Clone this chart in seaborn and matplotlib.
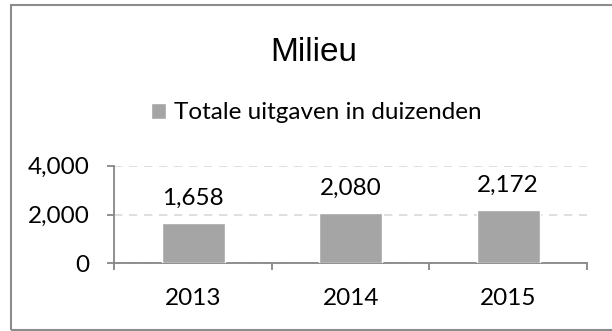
import matplotlib
matplotlib.use("Agg")
import matplotlib.pyplot as plt
from matplotlib.patches import Rectangle
from matplotlib.ticker import FuncFormatter, FixedLocator
import seaborn as sns
import pandas as pd

years = ["2013", "2014", "2015"]
uitgaven = [1658, 2080, 2172]
series_name = "Totale uitgaven in duizenden"
chart_title = "Milieu"

sns.set_theme(style="white")
plt.rcParams["font.family"] = ["Lato", "DejaVu Sans"]
plt.rcParams["text.color"] = "black"
plt.rcParams["xtick.color"] = "black"
plt.rcParams["ytick.color"] = "black"

BAR = "#a5a5a5"
AXIS = "#868686"
GRID = "#d9d9d9"
FS = 17.5

df = pd.DataFrame({"jaar": years, "waarde": uitgaven})

fig = plt.figure(figsize=(6.12, 3.31), dpi=100)
ax = fig.add_axes([0.1868, 0.2045, 0.9592 - 0.1868, 0.4994 - 0.2045])

sns.barplot(data=df, x="jaar", y="waarde", color=BAR, width=0.4,
            saturation=1, ax=ax, zorder=3)

ax.set_xlim(-0.5, len(years) - 0.5)
ax.set_ylim(0, 4000)
ax.set_yticks([0, 2000, 4000])
ax.yaxis.set_major_formatter(FuncFormatter(lambda v, p: f"{int(v):,}"))
ax.set_xlabel("")
ax.set_ylabel("")

ax.grid(axis="y", color=GRID, linestyle=(0, (5, 4)), linewidth=1.2, zorder=0)
ax.grid(axis="x", visible=False)
for s in ["top", "right"]:
    ax.spines[s].set_visible(False)
for s in ["left", "bottom"]:
    ax.spines[s].set_color(AXIS)
    ax.spines[s].set_linewidth(1.3)

ax.tick_params(axis="y", which="major", direction="out", length=5,
               width=1.3, color=AXIS, labelsize=FS, labelcolor="black",
               pad=13, left=True)
ax.tick_params(axis="x", which="major", length=0, labelsize=FS,
               labelcolor="black", pad=18)
ax.xaxis.set_minor_locator(FixedLocator([-0.5, 0.5, 1.5, 2.5]))
ax.tick_params(axis="x", which="minor", direction="out", length=5,
               width=1.3, color=AXIS, bottom=True)

for i, v in enumerate(uitgaven):
    ax.annotate(f"{v:,}", xy=(i, v), xytext=(0, 13), textcoords="offset points",
                ha="center", va="baseline", fontsize=FS, color="black")

fig.text(0.512, 1 - 60.7 / 331, chart_title, ha="center", va="baseline",
         fontsize=24, family=["Liberation Sans"], color="black")

fig.legend([ax.patches[0]], [series_name], loc="center",
           bbox_to_anchor=(0.517, 1 - 113 / 331), frameon=False, fontsize=FS,
           handlelength=0.62, handleheight=0.62, handletextpad=0.3,
           borderpad=0, borderaxespad=0)

fig.add_artist(Rectangle((11 / 612, 1 / 331), 1.2, 1 - 6 / 331,
                         transform=fig.transFigure, fill=False,
                         edgecolor="#8c8c8c", linewidth=1.5, clip_on=False))

fig.savefig("out.png", dpi=100)
